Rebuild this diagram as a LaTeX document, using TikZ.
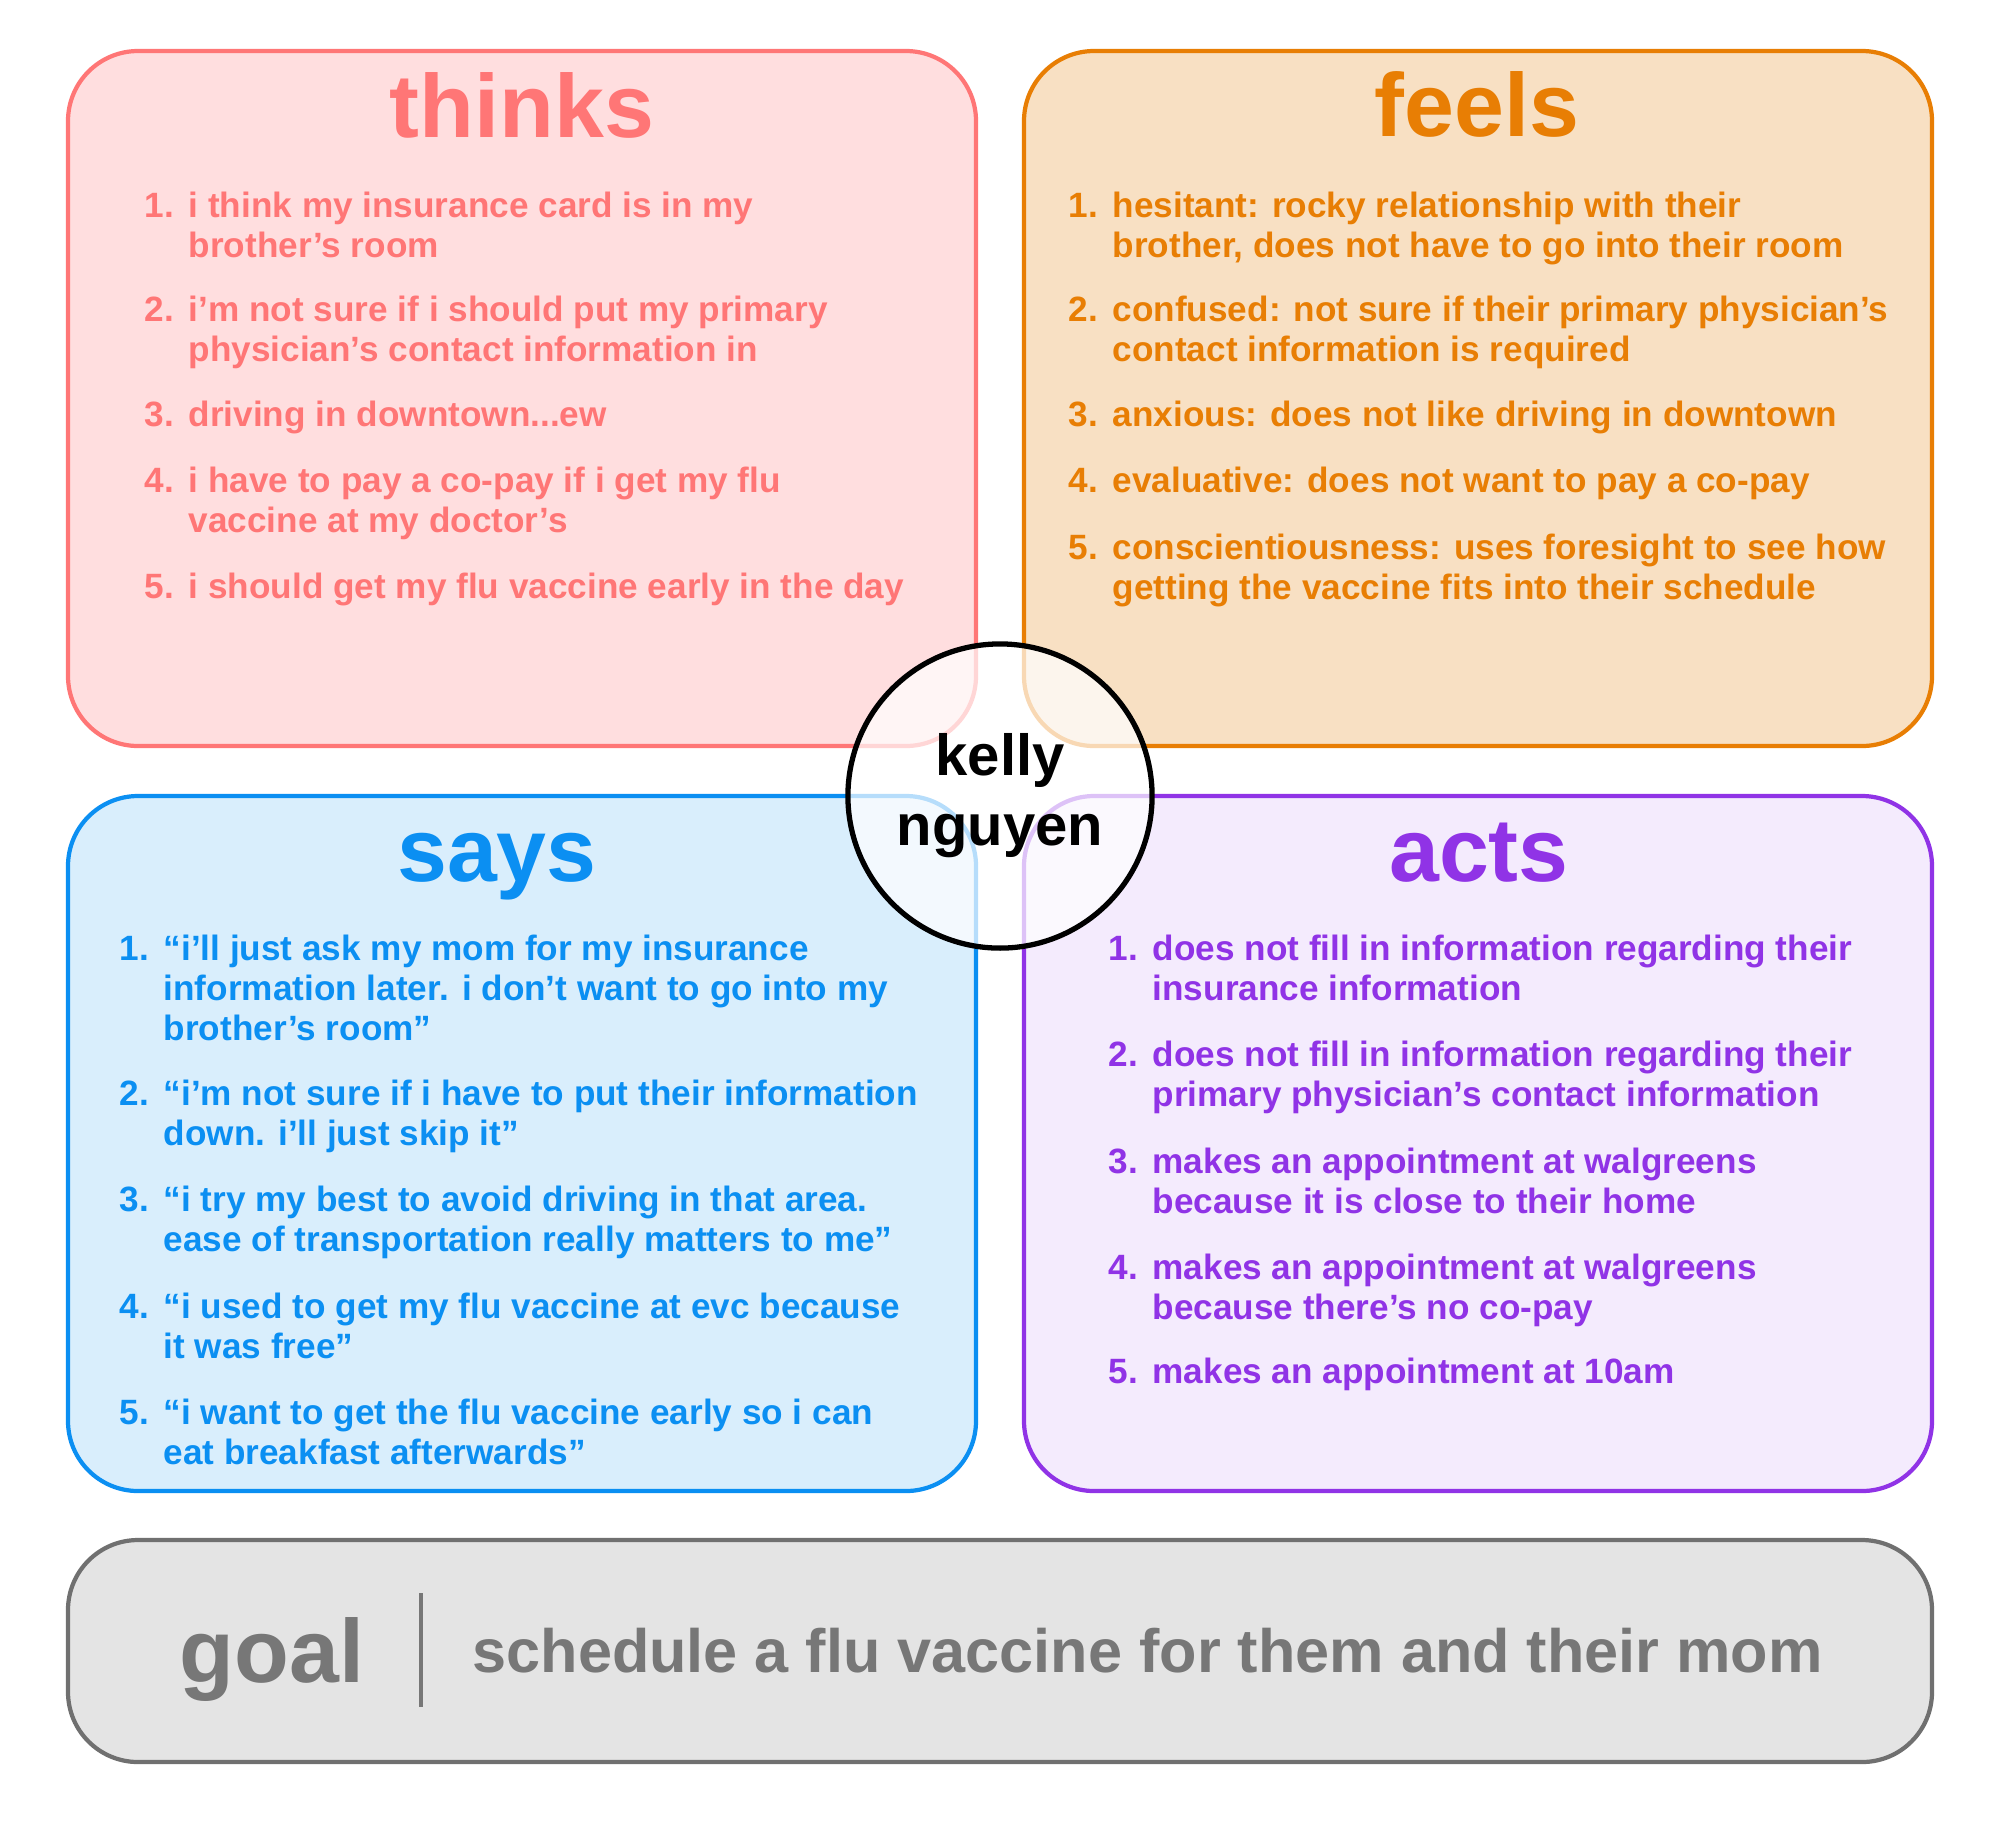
\documentclass[tikz,border=0pt]{standalone}
\usepackage{fontspec}
\setmainfont{Liberation Sans}

\definecolor{thinkline}{HTML}{FF7676}
\definecolor{thinkfill}{HTML}{FFDEDF}
\definecolor{feelline}{HTML}{E87E04}
\definecolor{feelfill}{HTML}{F8E0C3}
\definecolor{sayline}{HTML}{0B8FF2}
\definecolor{sayfill}{HTML}{D9EEFC}
\definecolor{actline}{HTML}{9033E6}
\definecolor{actfill}{HTML}{F4EBFD}
\definecolor{goalline}{HTML}{707070}
\definecolor{goalfill}{HTML}{E4E4E4}
\definecolor{goaltext}{HTML}{777777}

\newcommand{\itemfont}{\fontsize{10}{11.5}\selectfont\bfseries}
% first line of a wrapped item sits on the node's baseline
\newcommand{\lines}[1]{\begin{tabular}[t]{@{}l@{}}#1\end{tabular}}

\begin{document}
\begin{tikzpicture}[x=0.01cm, y=-0.01cm]

  \tikzstyle{panel}   = [line width=1.2pt, rounded corners=0.7cm]
  \tikzstyle{ttl}     = [anchor=base, inner sep=0pt, font=\fontsize{25.5}{28}\selectfont\bfseries]
  \tikzstyle{num}     = [anchor=base west, inner sep=0pt, font=\itemfont]
  \tikzstyle{itm}     = [anchor=base west, inner sep=0pt, font=\itemfont]
  \tikzstyle{who}     = [circle, draw=black, line width=1.5pt, fill=white, fill opacity=0.7,
                         text opacity=1, minimum size=3.04cm, inner sep=0pt, align=center,
                         font=\fontsize{16.5}{19.9}\selectfont\bfseries]

  \useasboundingbox (0,0) rectangle (2000,1841);

  % ---- PANELS ----
  \draw[panel, draw=thinkline, fill=thinkfill] (68,51)   rectangle (976,746);
  \draw[panel, draw=feelline,  fill=feelfill]  (1024,51) rectangle (1932,746);
  \draw[panel, draw=sayline,   fill=sayfill]   (68,796)  rectangle (976,1491);
  \draw[panel, draw=actline,   fill=actfill]   (1024,796) rectangle (1932,1491);
  \draw[panel, draw=goalline,  fill=goalfill]  (68,1540) rectangle (1932,1762);

  % ---- THINKS ----
  \node[ttl, text=thinkline] (thinks) at (522,137) {thinks};
  \begin{scope}[every node/.append style={text=thinkline}]
    \node[num] (t1n) at (144,217) {1.};
    \node[itm] (t1)  at (188,217) {\lines{i think my insurance card is in my\\brother’s room}};
    \node[num] (t2n) at (144,321) {2.};
    \node[itm] (t2)  at (188,321) {\lines{i’m not sure if i should put my primary\\physician’s contact information in}};
    \node[num] (t3n) at (144,426) {3.};
    \node[itm] (t3)  at (188,426) {driving in downtown...ew};
    \node[num] (t4n) at (144,492) {4.};
    \node[itm] (t4)  at (188,492) {\lines{i have to pay a co-pay if i get my flu\\vaccine at my doctor’s}};
    \node[num] (t5n) at (144,598) {5.};
    \node[itm] (t5)  at (188,598) {i should get my flu vaccine early in the day};
  \end{scope}

  % ---- FEELS ----
  \node[ttl, text=feelline] (feels) at (1477,136) {feels};
  \begin{scope}[every node/.append style={text=feelline}]
    \node[num] (f1n) at (1068,217) {1.};
    \node[itm] (f1)  at (1112,217) {\lines{hesitant: rocky relationship with their\\brother, does not have to go into their room}};
    \node[num] (f2n) at (1068,321) {2.};
    \node[itm] (f2)  at (1112,321) {\lines{confused: not sure if their primary physician’s\\contact information is required}};
    \node[num] (f3n) at (1068,426) {3.};
    \node[itm] (f3)  at (1112,426) {anxious: does not like driving in downtown};
    \node[num] (f4n) at (1068,492) {4.};
    \node[itm] (f4)  at (1112,492) {evaluative: does not want to pay a co-pay};
    \node[num] (f5n) at (1068,559) {5.};
    \node[itm] (f5)  at (1112,559) {\lines{conscientiousness: uses foresight to see how\\getting the vaccine fits into their schedule}};
  \end{scope}

  % ---- SAYS ----
  \node[ttl, text=sayline] (says) at (497,881) {says};
  \begin{scope}[every node/.append style={text=sayline}]
    \node[num] (s1n) at (119,960) {1.};
    \node[itm] (s1)  at (163,960) {\lines{“i’ll just ask my mom for my insurance\\information later. i don’t want to go into my\\brother’s room”}};
    \node[num] (s2n) at (119,1105) {2.};
    \node[itm] (s2)  at (163,1105) {\lines{“i’m not sure if i have to put their information\\down. i’ll just skip it”}};
    \node[num] (s3n) at (119,1211) {3.};
    \node[itm] (s3)  at (163,1211) {\lines{“i try my best to avoid driving in that area.\\ease of transportation really matters to me”}};
    \node[num] (s4n) at (119,1318) {4.};
    \node[itm] (s4)  at (163,1318) {\lines{“i used to get my flu vaccine at evc because\\it was free”}};
    \node[num] (s5n) at (119,1424) {5.};
    \node[itm] (s5)  at (163,1424) {\lines{“i want to get the flu vaccine early so i can\\eat breakfast afterwards”}};
  \end{scope}

  % ---- ACTS ----
  \node[ttl, text=actline] (acts) at (1479,881) {acts};
  \begin{scope}[every node/.append style={text=actline}]
    \node[num] (a1n) at (1108,960) {1.};
    \node[itm] (a1)  at (1152,960) {\lines{does not fill in information regarding their\\insurance information}};
    \node[num] (a2n) at (1108,1066) {2.};
    \node[itm] (a2)  at (1152,1066) {\lines{does not fill in information regarding their\\primary physician’s contact information}};
    \node[num] (a3n) at (1108,1173) {3.};
    \node[itm] (a3)  at (1152,1173) {\lines{makes an appointment at walgreens\\because it is close to their home}};
    \node[num] (a4n) at (1108,1279) {4.};
    \node[itm] (a4)  at (1152,1279) {\lines{makes an appointment at walgreens\\because there’s no co-pay}};
    \node[num] (a5n) at (1108,1383) {5.};
    \node[itm] (a5)  at (1152,1383) {makes an appointment at 10am};
  \end{scope}

  % ---- GOAL ----
  \node[ttl, text=goaltext] (goal) at (272,1682) {goal};
  \draw[goaltext, line width=1.2pt] (421,1593) -- (421,1707);
  \node[anchor=base west, inner sep=0pt, text=goaltext, font=\fontsize{17.4}{20}\selectfont\bfseries]
    (goalline) at (472,1672) {schedule a flu vaccine for them and their mom};

  % ---- PERSONA ----
  \node[who] (kelly) at (1000,796) {kelly\\nguyen};

\end{tikzpicture}
\end{document}
